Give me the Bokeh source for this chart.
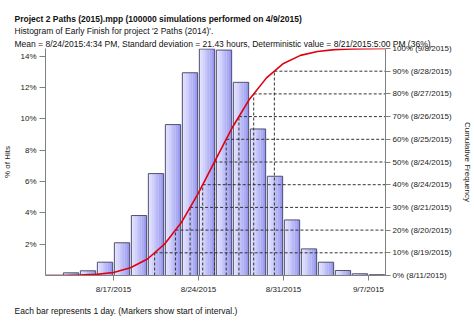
from bokeh.plotting import figure
from bokeh.models import Range1d, LinearAxis, FixedTicker, Title
from bokeh.embed import file_html
from bokeh.resources import INLINE

# ---- data ----
days = ["8/11/2015", "8/12/2015", "8/13/2015", "8/14/2015", "8/17/2015",
        "8/18/2015", "8/19/2015", "8/20/2015", "8/21/2015", "8/24/2015",
        "8/25/2015", "8/26/2015", "8/27/2015", "8/28/2015", "8/31/2015",
        "9/1/2015", "9/2/2015", "9/3/2015", "9/4/2015", "9/7/2015"]
hits = [0.01, 0.17, 0.30, 0.85, 2.09, 3.83, 6.51, 9.64, 12.95, 14.47,
        14.40, 12.34, 9.36, 6.34, 3.55, 1.70, 0.85, 0.32, 0.11, 0.05]
x_tick_labels = ["8/17/2015", "8/24/2015", "8/31/2015", "9/7/2015"]
left_ticks = [2, 4, 6, 8, 10, 12, 14]
cum_levels = [0, 10, 20, 30, 40, 50, 60, 70, 80, 90, 100]
cum_dates = ["8/11/2015", "8/19/2015", "8/20/2015", "8/21/2015", "8/24/2015",
             "8/24/2015", "8/25/2015", "8/26/2015", "8/27/2015", "8/28/2015",
             "9/8/2015"]

title1 = "Project 2 Paths (2015).mpp (100000 simulations performed on 4/9/2015)"
title2 = "Histogram of Early Finish for project '2 Paths (2014)'."
title3 = ("Mean = 8/24/2015:4:34 PM, Standard deviation = 21.43 hours, "
          "Deterministic value = 8/21/2015:5:00 PM (36%).")
footer = "Each bar represents 1 day. (Markers show start of interval.)"

FONT = "Liberation Sans"
n = len(hits)
total = sum(hits)

# cumulative (markers at start of each interval)
cum = [0.0]
for h in hits:
    cum.append(cum[-1] + h * 100.0 / total)
cum[-1] = 100.0
cum_x = list(range(n + 1))

p = figure(width=474, height=325, output_backend="svg", toolbar_location=None,
           x_range=Range1d(0, n), y_range=Range1d(0, 14.5),
           min_border_left=38, min_border_right=81, min_border_top=48,
           min_border_bottom=50)
p.title.visible = False
p.extra_y_ranges = {"cum": Range1d(0, 100)}
p.outline_line_color = None
p.grid.visible = False
p.background_fill_color = "white"
p.border_fill_color = "white"

# gradient bars: thin strips from light to saturated
BW = 0.9
strips = 9
c0 = (228, 228, 255)
c1 = (152, 152, 240)
for s in range(strips):
    t = s / (strips - 1)
    col = "#%02x%02x%02x" % tuple(int(round(a + (b - a) * t)) for a, b in zip(c0, c1))
    xs = [i + 0.5 - BW / 2 + (s + 0.5) * (BW / strips) for i in range(n)]
    p.vbar(x=xs, top=hits, width=BW / strips + 0.01, bottom=0,
           fill_color=col, line_color=None)
p.vbar(x=[i + 0.5 for i in range(n)], top=hits, width=BW, bottom=0,
       fill_color=None, line_color="#505070", line_width=1)

# dashed percentile guides
for lvl in cum_levels[1:-1]:
    for i in range(n):
        if cum[i] <= lvl < cum[i + 1]:
            xc = i + (lvl - cum[i]) / (cum[i + 1] - cum[i])
            break
    p.line([xc, n], [lvl, lvl], y_range_name="cum", line_color="#333333",
           line_dash="3 2", line_width=1)
    p.line([xc, xc], [0, lvl], y_range_name="cum", line_color="#333333",
           line_dash="3 2", line_width=1)

p.line(cum_x, cum, y_range_name="cum", line_color="#e00010", line_width=1.6)

# axes
AX = "#808080"
for ax in (p.xaxis[0], p.yaxis[0]):
    ax.axis_line_color = AX
    ax.major_tick_line_color = AX
    ax.minor_tick_line_color = None
    ax.major_tick_in = 0
    ax.major_tick_out = 5
    ax.major_label_text_font = FONT
    ax.major_label_text_font_size = "8px"
    ax.major_label_text_color = "#222222"

xt = [days.index(d) for d in x_tick_labels]
p.xaxis.ticker = FixedTicker(ticks=xt)
p.xaxis.major_label_overrides = {t: d for t, d in zip(xt, x_tick_labels)}
p.xaxis.major_label_standoff = 4

p.yaxis.ticker = FixedTicker(ticks=left_ticks)
p.yaxis.major_label_overrides = {t: "%d%%" % t for t in left_ticks}
p.yaxis.major_tick_out = 6
p.yaxis.axis_label = "% of Hits"
p.yaxis.axis_label_text_font = FONT
p.yaxis.axis_label_text_font_size = "8px"
p.yaxis.axis_label_text_font_style = "normal"
p.yaxis.axis_label_text_color = "#222222"
p.yaxis.axis_label_standoff = 5
p.yaxis.major_label_standoff = 3

ra = LinearAxis(y_range_name="cum", ticker=FixedTicker(ticks=cum_levels))
ra.major_label_overrides = {l: "%d%% (%s)" % (l, d) for l, d in zip(cum_levels, cum_dates)}
ra.axis_line_color = AX
ra.major_tick_line_color = AX
ra.minor_tick_line_color = None
ra.major_tick_in = 0
ra.major_tick_out = 5
ra.major_label_standoff = 2
ra.major_label_text_font = FONT
ra.major_label_text_font_size = "8px"
ra.major_label_text_color = "#222222"
ra.axis_label = "Cumulative Frequency"
ra.axis_label_text_font = FONT
ra.axis_label_text_font_size = "8px"
ra.axis_label_text_font_style = "normal"
ra.axis_label_text_color = "#222222"
ra.axis_label_standoff = 8
p.add_layout(ra, "right")

# texts
def mk(txt, bold=False, standoff=0):
    return Title(text=txt, align="left", offset=-31, text_font=FONT,
                 text_font_size="8.5px",
                 text_font_style="bold" if bold else "normal",
                 text_color="#111111", standoff=standoff)

p.add_layout(mk(title3, standoff=0), "above")
p.add_layout(mk(title2, standoff=1), "above")
p.add_layout(mk(title1, bold=True), "above")
p.add_layout(mk(footer, standoff=14), "below")

open("out.html", "w").write(file_html(p, INLINE))
